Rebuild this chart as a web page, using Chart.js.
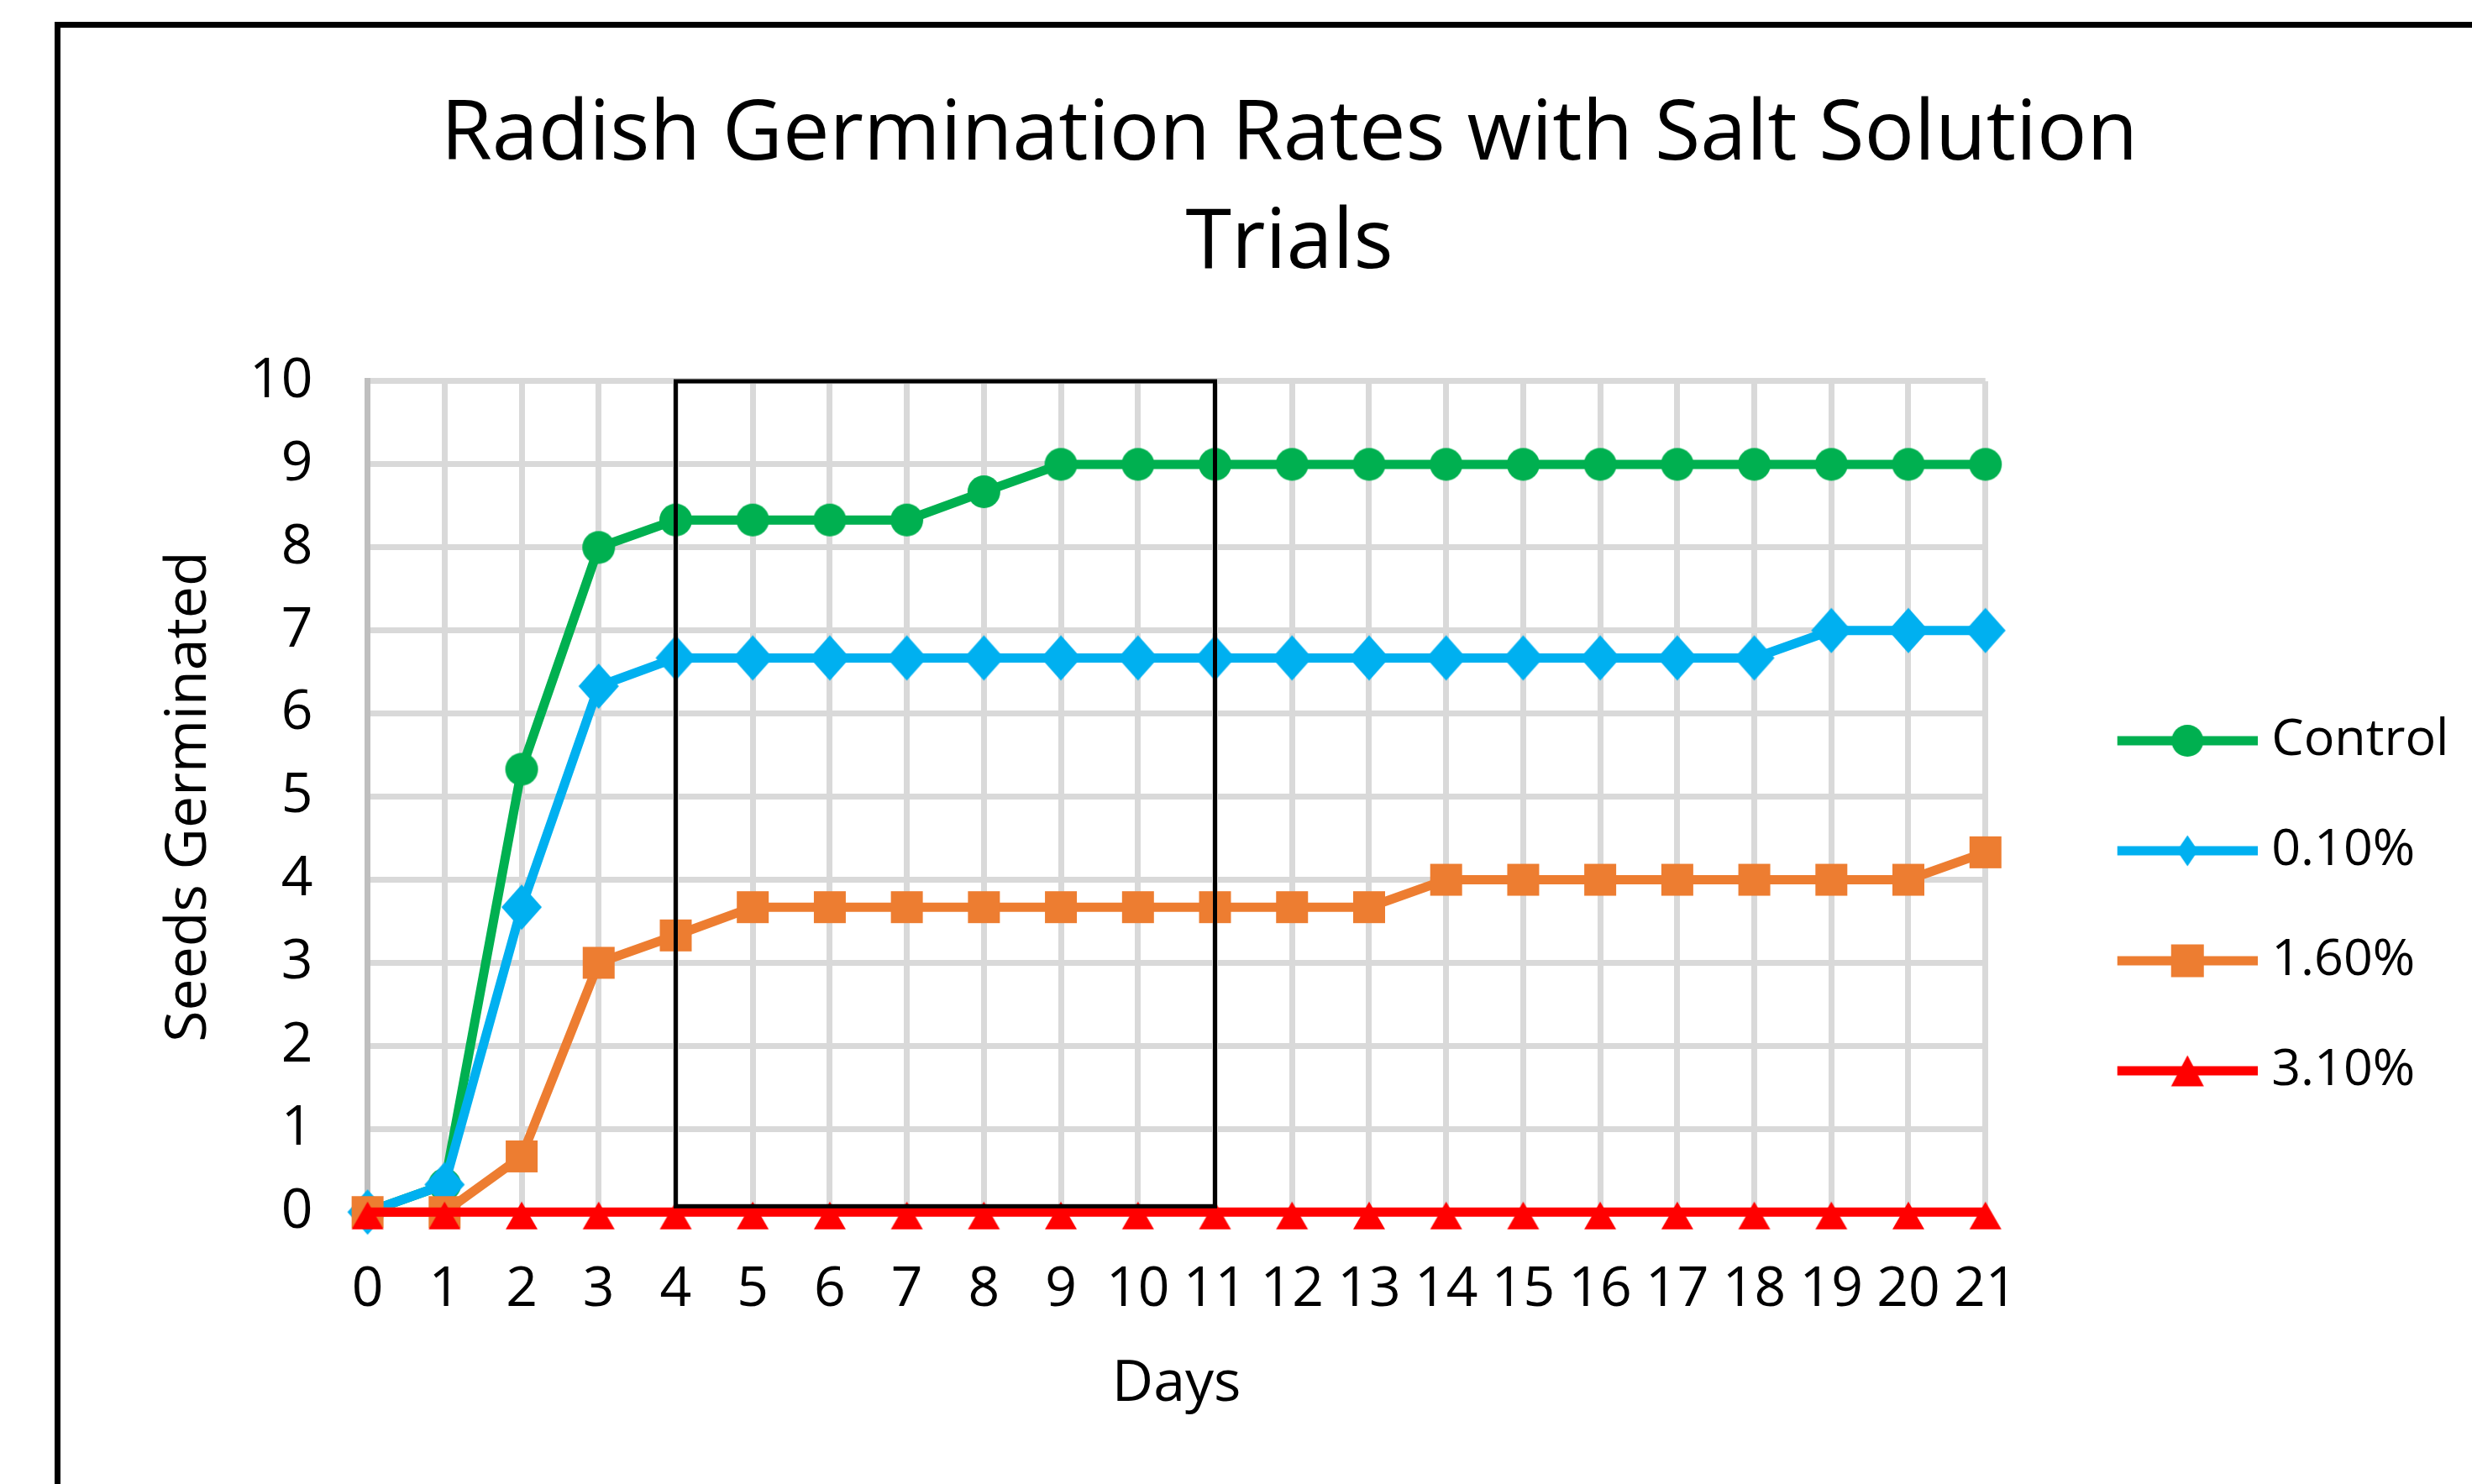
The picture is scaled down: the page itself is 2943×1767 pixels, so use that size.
<!DOCTYPE html>
<html lang="en">
<head>
<meta charset="UTF-8">
<title>Radish Germination Rates</title>
<script src="https://cdn.jsdelivr.net/npm/chart.js@4.4.1/dist/chart.umd.min.js"></script>
<style>
  html, body { margin: 0; padding: 0; background: #fff; overflow: hidden; width: 2943px; height: 1767px; }
  #frame { position: absolute; left: 65px; top: 26px; border: 7px solid #000; background: #fff; }
  #chart { display: block; }
</style>
</head>
<body>
<div id="frame"><canvas id="chart" width="2926" height="2091"></canvas></div>
<script>
// data
const days = ['0','1','2','3','4','5','6','7','8','9','10','11','12','13','14','15','16','17','18','19','20','21'];
const control = [0, 0.33, 5.33, 8, 8.33, 8.33, 8.33, 8.33, 8.67, 9, 9, 9, 9, 9, 9, 9, 9, 9, 9, 9, 9, 9];
const salt010 = [0, 0.33, 3.67, 6.33, 6.67, 6.67, 6.67, 6.67, 6.67, 6.67, 6.67, 6.67, 6.67, 6.67, 6.67, 6.67, 6.67, 6.67, 6.67, 7, 7, 7];
const salt160 = [0, 0, 0.67, 3, 3.33, 3.67, 3.67, 3.67, 3.67, 3.67, 3.67, 3.67, 3.67, 3.67, 4, 4, 4, 4, 4, 4, 4, 4.33];
const salt310 = [0, 0, 0, 0, 0, 0, 0, 0, 0, 0, 0, 0, 0, 0, 0, 0, 0, 0, 0, 0, 0, 0];
const seriesNames = ['Control', '0.10%', '1.60%', '3.10%'];
const yTicks = [0, 1, 2, 3, 4, 5, 6, 7, 8, 9, 10];
// the black box drawn over days 4 to 11
const boxDays = ['4', '11'];
const boxRange = [0.07, 10];

const FONT = '"Open Sans", Lato, sans-serif';
const colors = ['#00b050', '#00b0f0', '#ed7d31', '#ff0000'];
const shapes = ['circle', 'diamond', 'square', 'triangle'];
// marker sizes [width, height] in the plot and in the legend
const plotSizes = [[39, 39], [48, 54], [38, 38], [38, 33]];
const legendSizes = [[38, 38], [25, 37], [39, 39], [39, 37]];

// Excel-like marker shapes, centred on (cx, cy)
function markerPath(g, shape, cx, cy, w, h) {
  g.beginPath();
  if (shape === 'circle') {
    g.arc(cx, cy, w / 2, 0, Math.PI * 2);
  } else if (shape === 'diamond') {
    g.moveTo(cx, cy - h / 2); g.lineTo(cx + w / 2, cy); g.lineTo(cx, cy + h / 2); g.lineTo(cx - w / 2, cy);
  } else if (shape === 'square') {
    g.rect(cx - w / 2, cy - h / 2, w, h);
  } else {
    g.moveTo(cx, cy - h / 2); g.lineTo(cx + w / 2, cy + h / 2); g.lineTo(cx - w / 2, cy + h / 2);
  }
  g.closePath();
  g.fill();
}

function plotMarker(i) {
  const [w, h] = plotSizes[i];
  const drop = shapes[i] === 'triangle' ? 4 : 0;   // excel triangles sit a little low
  const c = document.createElement('canvas');
  c.width = w + 4; c.height = h + 4 + drop * 2;
  const g = c.getContext('2d');
  g.fillStyle = colors[i];
  markerPath(g, shapes[i], c.width / 2, c.height / 2 + drop, w, h);
  return c;
}

// legend sample: line with marker in the middle
function legendSample(i) {
  const c = document.createElement('canvas');
  c.width = 268; c.height = 60;
  const g = c.getContext('2d');
  g.strokeStyle = colors[i];
  g.lineWidth = 11;
  g.beginPath(); g.moveTo(101, 30); g.lineTo(268, 30); g.stroke();
  g.fillStyle = colors[i];
  markerPath(g, shapes[i], 184.5, 30, legendSizes[i][0], legendSizes[i][1]);
  return c;
}

const highlightBox = {
  id: 'highlightBox',
  afterDatasetsDraw(chart) {
    const { ctx, scales: { x, y } } = chart;
    const x1 = x.getPixelForValue(days.indexOf(boxDays[0]));
    const x2 = x.getPixelForValue(days.indexOf(boxDays[1]));
    const y1 = y.getPixelForValue(boxRange[1]);
    const y2 = y.getPixelForValue(boxRange[0]);
    ctx.save();
    ctx.strokeStyle = '#000';
    ctx.lineWidth = 5;
    ctx.strokeRect(x1, y1, x2 - x1, y2 - y1);
    ctx.restore();
  }
};

const seriesData = [control, salt010, salt160, salt310];
const datasets = seriesData.map((d, i) => ({
  label: seriesNames[i],
  data: d,
  borderColor: colors[i],
  backgroundColor: colors[i],
  pointStyle: plotMarker(i),
  pointRadius: 20,
  borderWidth: 11,
  tension: 0,
  clip: false,
  order: 3 - i   // later series are drawn on top
}));

new Chart(document.getElementById('chart'), {
  type: 'line',
  data: { labels: days, datasets: datasets },
  plugins: [highlightBox],
  options: {
    responsive: false,
    animation: false,
    devicePixelRatio: 1,
    layout: { padding: { left: 72.5, right: 72.5, top: 0, bottom: 0 } },
    plugins: {
      tooltip: { enabled: false },
      title: {
        display: true,
        text: ['Radish Germination Rates with Salt Solution', 'Trials'],
        color: '#000',
        font: { family: FONT, size: 99, weight: 'normal', lineHeight: 1.308 },
        padding: { top: 64, bottom: 98 }
      },
      legend: {
        position: 'right',
        labels: {
          usePointStyle: true,
          pointStyleWidth: 240,
          padding: 70,
          color: '#000',
          font: { family: FONT, size: 61 },
          generateLabels: (chart) => chart.data.datasets.map((ds, i) => ({
            text: ds.label,
            pointStyle: legendSample(i),
            fillStyle: colors[i],
            strokeStyle: colors[i],
            lineWidth: 0,
            fontColor: '#000',
            hidden: false,
            datasetIndex: i
          }))
        }
      }
    },
    scales: {
      x: {
        type: 'category',
        offset: false,
        grid: { color: '#d9d9d9', lineWidth: 7, drawTicks: false },
        border: { color: '#d9d9d9', width: 7 },
        ticks: { autoSkip: false, maxRotation: 0, color: '#000', padding: 53, font: { family: FONT, size: 66 } },
        title: { display: true, text: 'Days', color: '#000', font: { family: FONT, size: 68 }, padding: { top: -21, bottom: 435 } }
      },
      y: {
        min: 0,
        max: 10,
        afterBuildTicks: (axis) => { axis.ticks = yTicks.map(v => ({ value: v })); },
        grid: { color: '#d9d9d9', lineWidth: 7, drawTicks: false },
        border: { color: '#bfbfbf', width: 7 },
        ticks: { color: '#000', padding: 65, font: { family: FONT, size: 66 } },
        title: { display: true, text: 'Seeds Germinated', color: '#000', font: { family: FONT, size: 68 }, padding: { top: 40, bottom: -34 } }
      }
    }
  }
});
</script>
</body>
</html>
